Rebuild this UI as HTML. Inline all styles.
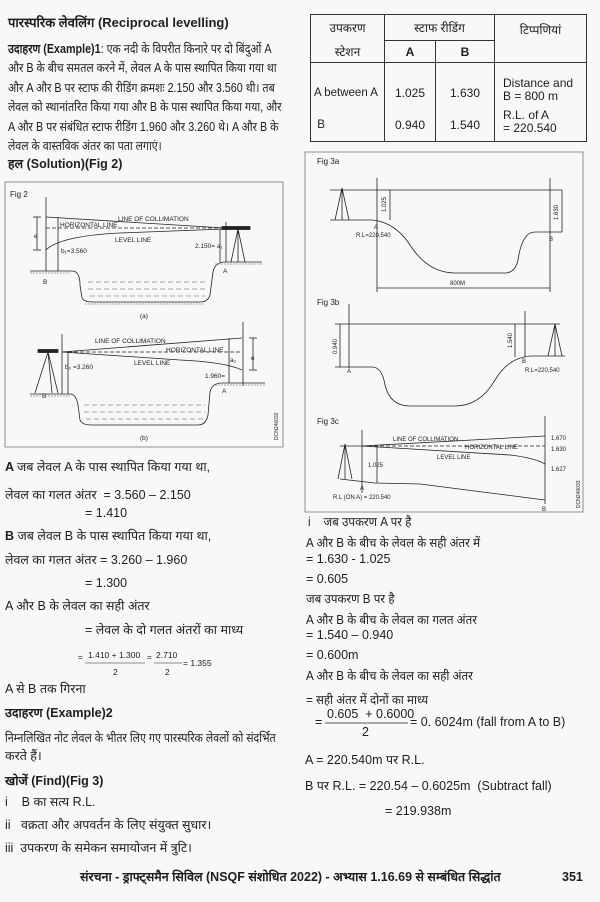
<!DOCTYPE html>
<html><head><meta charset="utf-8"><style>
body{margin:0;width:600px;height:902px;background:#f8f8f6;position:relative;overflow:hidden;font-family:"Liberation Sans","Noto Sans CJK SC",sans-serif;color:#1e1e1e}
.t{position:absolute;font-size:12.5px;white-space:nowrap;line-height:15px;transform-origin:0 50%}
.s{transform:scaleX(0.86)}
.s2{transform:scaleX(0.93)}
.b{font-weight:bold}
table{position:absolute;left:310px;top:14px;width:277px;height:126px;border-collapse:collapse;font-size:12px;table-layout:fixed}
td{border:1px solid #333;text-align:center;padding:0}
svg{position:absolute;left:0;top:0}
svg text{font-family:"Liberation Sans",sans-serif;fill:#222}
</style></head><body>
<div class="t b" style="left:8px;top:15px;font-size:13px">पारस्परिक लेवलिंग (Reciprocal levelling)</div>
<div class="t s" style="left:8px;top:42px"><b>उदाहरण (Example)1</b>: एक नदी के विपरीत किनारे पर दो बिंदुओं A</div>
<div class="t s" style="left:8px;top:61px">और B के बीच समतल करने में, लेवल A के पास स्थापित किया गया था</div>
<div class="t s" style="left:8px;top:81px">और A और B पर स्टाफ की रीडिंग क्रमशः 2.150 और 3.560 थी। तब</div>
<div class="t s" style="left:8px;top:100px">लेवल को स्थानांतरित किया गया और B के पास स्थापित किया गया, और</div>
<div class="t s" style="left:8px;top:120px">A और B पर संबंधित स्टाफ रीडिंग 1.960 और 3.260 थे। A और B के</div>
<div class="t s" style="left:8px;top:139px">लेवल के वास्तविक अंतर का पता लगाएं।</div>
<div class="t b" style="left:8px;top:157px">हल (Solution)(Fig 2)</div>

<table>
<col style="width:74px"><col style="width:51px"><col style="width:59px"><col>
<tr style="height:26px"><td style="border-bottom:none">उपकरण</td><td colspan="2">स्टाफ रीडिंग</td><td rowspan="2" style="vertical-align:top;padding-top:6px">टिप्पणियां</td></tr>
<tr style="height:22px"><td style="border-top:none">स्टेशन</td><td class="b">A</td><td class="b">B</td></tr>
<tr><td style="vertical-align:top;padding-top:14px;line-height:32px;text-align:left;padding-left:3px;font-size:11.5px">A between A<br>&nbsp;B</td><td style="vertical-align:top;padding-top:14px;line-height:32px">1.025<br>0.940</td><td style="vertical-align:top;padding-top:14px;line-height:32px">1.630<br>1.540</td><td style="text-align:left;padding-left:8px;vertical-align:top;padding-top:14px;line-height:13px">Distance and<br>B = 800 m<br><span style="display:block;height:6px"></span>R.L. of A<br>= 220.540</td></tr>
</table>

<svg width="600" height="902" viewBox="0 0 600 902" fill="none" stroke="#222" stroke-width="0.8">
<!-- Fig 2 -->
<rect x="5" y="182" width="278" height="265" stroke="#777"/>
<text x="10" y="197" font-size="8" stroke="none">Fig 2</text>
<line x1="46" y1="197" x2="46" y2="271"/>
<path d="M30 271 L72 271 Q80 271 80 285 L82 298 Q84 302 92 302 L200 302 Q208 302 210 295 L213 272 Q215 262 225 262 L262 262"/>
<path d="M30 273 L70 273 M85 304 L205 304 M215 264 L262 264" stroke="#888" stroke-dasharray="2 1"/>
<path d="M88 282 H205 M88 289 H205 M90 296 H205" stroke="#888" stroke-dasharray="5 3"/>
<line x1="226" y1="222" x2="226" y2="262"/>
<path d="M46 217 L225 228"/>
<path d="M46 228 L225 228" stroke-dasharray="4 2"/>
<path d="M46 250 Q60 236 120 233 L225 229"/>
<rect x="222" y="226.5" width="28" height="3" fill="#222"/>
<path d="M238 229 L231 262 M238 229 L245 262 M238 229 L238 262"/>
<line x1="37" y1="217" x2="37" y2="250"/><line x1="33" y1="217" x2="41" y2="217"/><line x1="33" y1="250" x2="41" y2="250"/>
<line x1="58" y1="217" x2="58" y2="271"/><line x1="220" y1="229" x2="220" y2="262"/>
<g stroke="none" font-size="6.5"><text x="118" y="221">LINE OF COLLIMATION</text><text x="60" y="227">HORIZONTAL LINE</text><text x="115" y="242">LEVEL LINE</text><text x="61" y="253">b₁=3.560</text><text x="195" y="248">2.150= a₁</text><text x="34" y="238">e</text><text x="43" y="284">B</text><text x="223" y="273">A</text><text x="140" y="318">(a)</text>
<text x="95" y="343">LINE OF COLLIMATION</text><text x="166" y="352">HORIZONTAL LINE</text><text x="134" y="365">LEVEL LINE</text><text x="65" y="369">b₂ =3.260</text><text x="205" y="378">1.960=</text><text x="230" y="362">a₂</text><text x="251" y="360">e</text><text x="42" y="398">B</text><text x="222" y="393">A</text><text x="140" y="440">(b)</text></g>
<line x1="62" y1="334" x2="62" y2="394"/>
<line x1="243" y1="322" x2="243" y2="386"/>
<rect x="38" y="349.5" width="20" height="3" fill="#222"/>
<path d="M48 352 L35 393 M48 352 L58 393 M48 352 L52 393"/>
<path d="M62 352 L242 338"/>
<path d="M62 352 L242 352" stroke-dasharray="4 2"/>
<path d="M62 352 L180 360 Q225 362 242 370"/>
<line x1="68" y1="352" x2="68" y2="394"/><line x1="229" y1="338" x2="229" y2="383"/>
<line x1="253" y1="338" x2="253" y2="370"/><line x1="249" y1="338" x2="257" y2="338"/><line x1="249" y1="370" x2="257" y2="370"/>
<path d="M30 394 L70 394 Q76 394 78 405 L80 420 Q82 425 92 425 L198 425 Q206 425 208 415 L210 392 Q212 383 222 383 L265 383"/>
<path d="M30 396 L70 396 M215 385 L265 385" stroke="#888" stroke-dasharray="2 1"/>
<path d="M84 405 H205 M84 412 H205 M86 419 H205" stroke="#888" stroke-dasharray="5 3"/>
<text x="278" y="440" font-size="5" stroke="none" transform="rotate(-90 278 440)">DCN246032</text>

<!-- Fig 3 -->
<rect x="305" y="152" width="278" height="360" stroke="#777"/>
<g stroke="none" font-size="8"><text x="317" y="164">Fig 3a</text><text x="317" y="305">Fig 3b</text><text x="317" y="424">Fig 3c</text></g>
<line x1="330" y1="190" x2="562" y2="190"/>
<path d="M342 188 L335 220 M342 188 L349 220 M342 188 L342 220"/>
<path d="M330 220 L372 220 Q395 222 410 245 Q428 273 455 273 L505 273 Q515 273 518 260 Q522 232 535 232 L562 232"/>
<line x1="377" y1="178" x2="377" y2="292"/><line x1="550" y1="178" x2="550" y2="292"/>
<line x1="390" y1="190" x2="390" y2="220"/><line x1="562" y1="190" x2="562" y2="232"/>
<line x1="377" y1="288" x2="550" y2="288"/>
<g stroke="none" font-size="6"><text x="450" y="285">800M</text><text x="374" y="229">A</text><text x="356" y="237">R.L=220.540</text><text x="549" y="241">B</text>
<text x="386" y="212" transform="rotate(-90 386 212)">1.025</text><text x="558" y="220" transform="rotate(-90 558 220)">1.630</text>
<text x="347" y="373">A</text><text x="522" y="363">B</text><text x="525" y="372">R.L=220.540</text>
<text x="337" y="354" transform="rotate(-90 337 354)">0.940</text><text x="512" y="348" transform="rotate(-90 512 348)">1.540</text>
<text x="393" y="441">LINE OF COLLIMATION</text><text x="465" y="449">HORIZONTAL LINE</text><text x="437" y="459">LEVEL LINE</text><text x="368" y="467">1.025</text><text x="360" y="490">A</text><text x="333" y="499">R.L (ON A) = 220.540</text><text x="542" y="511">B</text>
<text x="551" y="440">1.670</text><text x="551" y="451">1.630</text><text x="551" y="471">1.627</text></g>
<line x1="335" y1="324" x2="560" y2="324"/>
<line x1="349" y1="304" x2="349" y2="368"/><line x1="525" y1="311" x2="525" y2="357"/>
<path d="M555 324 L548 356 M555 324 L562 356 M555 324 L555 356"/>
<path d="M335 367 L372 367 Q382 367 385 385 Q390 406 410 406 L455 406 Q480 406 495 380 Q508 358 530 356 L565 356"/>
<line x1="340" y1="324" x2="340" y2="367"/><line x1="515" y1="324" x2="515" y2="357"/>
<path d="M345 444 L338 479 M345 444 L352 479 M345 444 L345 479"/>
<line x1="362" y1="430" x2="362" y2="493"/><line x1="545" y1="416" x2="545" y2="504"/>
<path d="M340 446 L362 446"/><path d="M362 446 L545 446" stroke-dasharray="4 2"/>
<path d="M362 446 L545 436"/>
<path d="M362 446 L510 455 Q535 458 545 464"/>
<path d="M340 479 L375 483 L420 484 L545 500"/>
<line x1="377" y1="446" x2="377" y2="483"/>
<text x="580" y="508" font-size="5" stroke="none" transform="rotate(-90 580 508)">DCN246033</text>
<line x1="85" y1="663" x2="145" y2="663" stroke-width="0.6"/><line x1="154" y1="663" x2="182" y2="663" stroke-width="0.6"/>
<line x1="325" y1="723" x2="408" y2="723" stroke-width="0.8"/>
</svg>

<div class="t b" style="left:5px;top:460px">A <span style="font-weight:normal">जब लेवल A के पास स्थापित किया गया था,</span></div>
<div class="t" style="left:5px;top:488px">लेवल का गलत अंतर &nbsp;= 3.560 – 2.150</div>
<div class="t" style="left:85px;top:506px">= 1.410</div>
<div class="t b" style="left:5px;top:529px">B <span style="font-weight:normal">जब लेवल B के पास स्थापित किया गया था,</span></div>
<div class="t" style="left:5px;top:553px">लेवल का गलत अंतर = 3.260 – 1.960</div>
<div class="t" style="left:85px;top:576px">= 1.300</div>
<div class="t" style="left:5px;top:599px">A और B के लेवल का सही अंतर</div>
<div class="t" style="left:85px;top:623px">= लेवल के दो गलत अंतरों का माध्य</div>
<div class="t" style="left:78px;top:650px;font-size:8px">=</div>
<div class="t" style="left:88px;top:648px;font-size:8.5px">1.410 + 1.300</div>
<div class="t" style="left:113px;top:665px;font-size:8.5px">2</div>
<div class="t" style="left:147px;top:650px;font-size:8px">=</div>
<div class="t" style="left:156px;top:648px;font-size:8.5px">2.710</div>
<div class="t" style="left:165px;top:665px;font-size:8.5px">2</div>
<div class="t" style="left:183px;top:656px;font-size:8.5px">= 1.355</div>
<div class="t" style="left:5px;top:682px">A से B तक गिरना</div>
<div class="t b" style="left:5px;top:706px">उदाहरण (Example)2</div>
<div class="t s" style="left:5px;top:731px">निम्नलिखित नोट लेवल के भीतर लिए गए पारस्परिक लेवलों को संदर्भित</div>
<div class="t" style="left:5px;top:749px">करते हैं।</div>
<div class="t b" style="left:5px;top:774px">खोजें (Find)(Fig 3)</div>
<div class="t" style="left:5px;top:795px">i&nbsp;&nbsp;&nbsp; B का सत्य R.L.</div>
<div class="t" style="left:5px;top:818px">ii&nbsp;&nbsp; वक्रता और अपवर्तन के लिए संयुक्त सुधार।</div>
<div class="t" style="left:5px;top:841px">iii&nbsp; उपकरण के समेकन समायोजन में त्रुटि।</div>

<div class="t s2" style="left:308px;top:515px">i&nbsp;&nbsp;&nbsp; जब उपकरण A पर है</div>
<div class="t s2" style="left:306px;top:536px">A और B के बीच के लेवल के सही अंतर में</div>
<div class="t" style="left:306px;top:552px">= 1.630 - 1.025</div>
<div class="t" style="left:306px;top:572px">= 0.605</div>
<div class="t s2" style="left:306px;top:592px">जब उपकरण B पर है</div>
<div class="t s2" style="left:306px;top:613px">A और B के बीच के लेवल का गलत अंतर</div>
<div class="t" style="left:306px;top:628px">= 1.540 – 0.940</div>
<div class="t" style="left:306px;top:648px">= 0.600m</div>
<div class="t s2" style="left:306px;top:669px">A और B के बीच के लेवल का सही अंतर</div>
<div class="t s2" style="left:306px;top:693px">= सही अंतर में दोनों का माध्य</div>
<div class="t" style="left:315px;top:715px">=</div>
<div class="t" style="left:327px;top:707px">0.605 &nbsp;+ 0.6000</div>
<div class="t" style="left:362px;top:725px">2</div>
<div class="t" style="left:410px;top:715px">= 0. 6024m (fall from A to B)</div>
<div class="t" style="left:305px;top:753px">A = 220.540m पर R.L.</div>
<div class="t" style="left:305px;top:779px">B पर R.L. = 220.54 – 0.6025m &nbsp;(Subtract fall)</div>
<div class="t" style="left:385px;top:804px">= 219.938m</div>

<div class="t b" style="left:80px;top:870px;font-size:12.5px">संरचना - ड्राफ्ट्समैन सिविल (NSQF संशोधित 2022) - अभ्यास 1.16.69 से सम्बंधित सिद्धांत</div>
<div class="t b" style="left:562px;top:870px;font-size:12.5px">351</div>
</body></html>
